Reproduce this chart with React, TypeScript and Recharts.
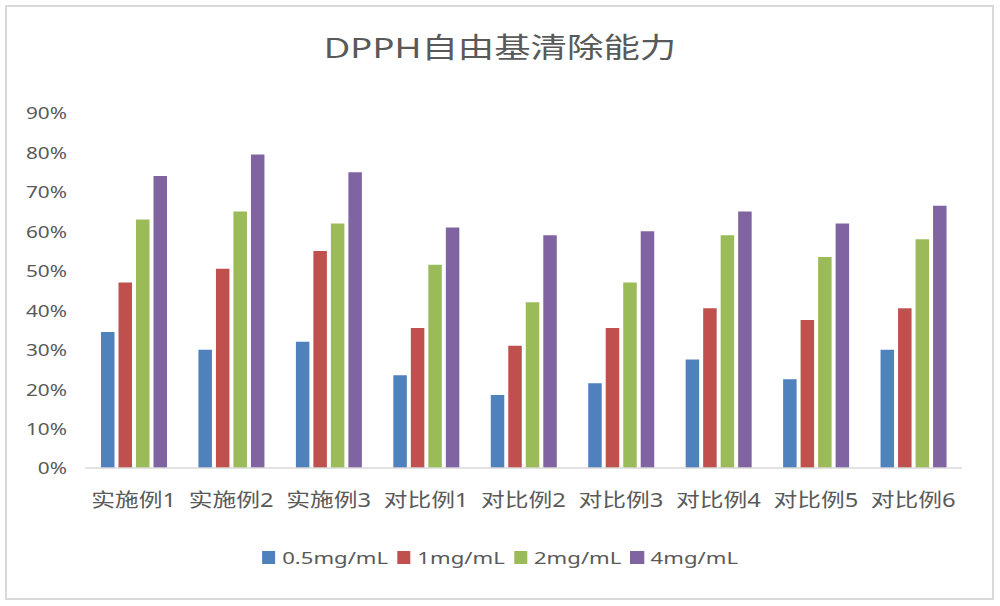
import React from 'react';
import { Bar, BarChart, Legend, XAxis, YAxis } from 'recharts';

const categories = ['实施例1', '实施例2', '实施例3', '对比例1', '对比例2', '对比例3', '对比例4', '对比例5', '对比例6'];
const seriesNames = ['0.5mg/mL', '1mg/mL', '2mg/mL', '4mg/mL'];
const s05 = [34.5, 30, 32, 23.5, 18.5, 21.5, 27.5, 22.5, 30];
const s1 = [47, 50.5, 55, 35.5, 31, 35.5, 40.5, 37.5, 40.5];
const s2 = [63, 65, 62, 51.5, 42, 47, 59, 53.5, 58];
const s4 = [74, 79.5, 75, 61, 59, 60, 65, 62, 66.5];
const yTicks = [0, 10, 20, 30, 40, 50, 60, 70, 80, 90];

const COLORS = ['#4F81BD', '#C0504D', '#9BBB59', '#8064A2'];
const FONT = '"Noto Sans", "Noto Sans CJK SC", sans-serif';
const TEXT = '#595959';

const data = categories.map((name, i) => ({
    name,
    [seriesNames[0]]: s05[i],
    [seriesNames[1]]: s1[i],
    [seriesNames[2]]: s2[i],
    [seriesNames[3]]: s4[i],
}));

const YTick = ({ x, y, payload }: any) => (
    <text
        transform={`translate(${x},${y}) scale(1.3,1)`}
        textAnchor='end'
        dominantBaseline='central'
        fill={TEXT}
        fontSize={16}
        fontFamily={FONT}
    >
        {`${payload.value}%`}
    </text>
);

const XTick = ({ x, y, payload }: any) => (
    <text
        transform={`translate(${x},${y + 8}) scale(1.25,1)`}
        textAnchor='middle'
        dominantBaseline='central'
        fill={TEXT}
        fontSize={19}
        fontFamily={FONT}
    >
        {payload.value}
    </text>
);

// legend is squeezed, then stretched like the rest of the picture
const renderLegend = ({ payload }: any) => (
    <div
        style={{
            display: 'flex',
            justifyContent: 'center',
            alignItems: 'center',
            fontFamily: FONT,
            transform: 'scaleX(1.3)',
        }}
    >
        {payload.map((entry: any, i: number) => (
            <div
                key={entry.value}
                style={{ display: 'flex', alignItems: 'center', marginRight: i < payload.length - 1 ? 7 : 0 }}
            >
                <span
                    style={{ width: 10.5, height: 13, background: entry.color, display: 'inline-block', marginRight: 5 }}
                />
                <span style={{ fontSize: 17, color: TEXT }}>{entry.value}</span>
            </div>
        ))}
    </div>
);

export default function App() {
    return (
        <div style={{ position: 'absolute', left: 0, top: 0, width: 1000, height: 606, background: '#fff' }}>
            <div
                style={{
                    position: 'absolute',
                    left: 5,
                    top: 5,
                    width: 985,
                    height: 591,
                    border: '2px solid #d9d9d9',
                }}
            />
            <div
                style={{
                    position: 'absolute',
                    left: 0,
                    top: 26,
                    width: 1000,
                    textAlign: 'center',
                    fontFamily: FONT,
                    fontSize: 28,
                    color: TEXT,
                    transform: 'scaleX(1.3)',
                }}
            >
                DPPH自由基清除能力
            </div>
            <BarChart
                width={1000}
                height={606}
                data={data}
                margin={{ top: 113, right: 38, bottom: 98, left: 25 }}
                barSize={13.5}
                barGap={4}
                style={{ position: 'absolute', left: 0, top: 0 }}
            >
                <XAxis
                    dataKey='name'
                    height={40}
                    tick={<XTick />}
                    tickLine={false}
                    tickMargin={17}
                    axisLine={{ stroke: '#d9d9d9', strokeWidth: 1.5 }}
                    interval={0}
                />
                <YAxis
                    width={60}
                    domain={[0, 90]}
                    ticks={yTicks}
                    tick={<YTick />}
                    tickLine={false}
                    tickMargin={12}
                    axisLine={false}
                    interval={0}
                />
                <Legend
                    layout='horizontal'
                    verticalAlign='middle'
                    align='center'
                    content={renderLegend}
                    wrapperStyle={{ top: 546, left: 0, width: 1000 }}
                />
                {seriesNames.map((s, i) => (
                    <Bar key={s} dataKey={s} fill={COLORS[i]} isAnimationActive={false} />
                ))}
            </BarChart>
        </div>
    );
}
